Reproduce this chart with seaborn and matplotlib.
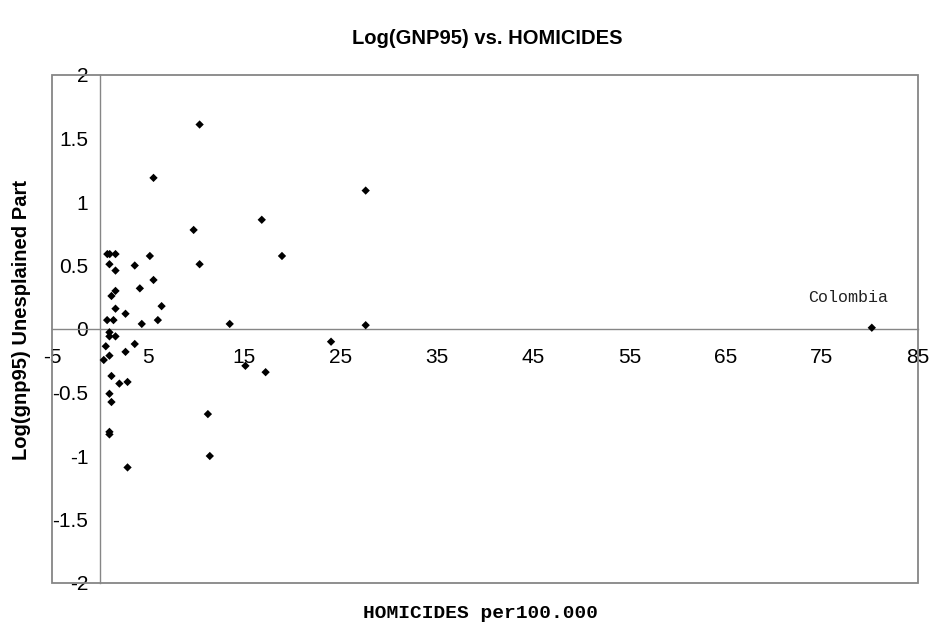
import numpy as np
import pandas as pd
import matplotlib
matplotlib.use("Agg")
import matplotlib.pyplot as plt
import seaborn as sns
from matplotlib.patches import Rectangle

# ---- data ----
homicides = [0.75, 1.0, 1.6, 5.17, 0.97, 3.6, 1.6, 5.55, 4.13, 1.6,
             1.18, 6.39, 1.6, 2.64, 0.73, 1.39, 6.0, 4.33, 0.97, 0.97,
             1.6, 0.59, 3.6, 2.64, 0.97, 0.38, 1.18, 2.0, 2.85, 0.97,
             1.18, 0.97, 0.97, 10.34, 5.55, 16.8, 9.72, 18.9, 10.34, 13.47,
             15.1, 17.2, 11.2, 11.4, 2.85, 24.0, 27.6, 27.6, 80.2]
residual = [0.59, 0.59, 0.59, 0.575, 0.51, 0.50, 0.46, 0.386, 0.32, 0.30,
            0.26, 0.18, 0.16, 0.12, 0.07, 0.07, 0.07, 0.04, -0.026, -0.058,
            -0.058, -0.136, -0.118, -0.18, -0.21, -0.244, -0.37, -0.43, -0.417, -0.51,
            -0.575, -0.81, -0.83, 1.61, 1.19, 0.86, 0.78, 0.575, 0.51, 0.04,
            -0.29, -0.34, -0.67, -1.0, -1.09, -0.10, 1.09, 0.03, 0.01]
x_ticks = [-5, 5, 15, 25, 35, 45, 55, 65, 75, 85]
x_tick_labels = ["-5", "5", "15", "25", "35", "45", "55", "65", "75", "85"]
y_ticks = [-2, -1.5, -1, -0.5, 0, 0.5, 1, 1.5, 2]
y_tick_labels = ["-2", "-1.5", "-1", "-0.5", "0", "0.5", "1", "1.5", "2"]
annot_label = "Colombia"
annot_pos = (77.7, 0.25)

title = "Log(GNP95) vs. HOMICIDES"
xlabel = "HOMICIDES per100.000"
ylabel = "Log(gnp95) Unesplained Part"

df = pd.DataFrame({"homicides": homicides, "residual": residual})

sns.set_style("white")
plt.rcParams["font.family"] = ["Liberation Sans", "DejaVu Sans"]
plt.rcParams["text.color"] = "black"

W, H = 935, 631
fig = plt.figure(figsize=(W / 100, H / 100), dpi=100)
left, right, top, bottom = 52, 918, 75, 583
ax = fig.add_axes([left / W, 1 - bottom / H, (right - left) / W, (bottom - top) / H])

sns.scatterplot(data=df, x="homicides", y="residual", marker="D", s=18,
                color="black", edgecolor="none", linewidth=0, ax=ax, zorder=3,
                legend=False)

ax.set_xlim(-5, 85)
ax.set_ylim(-2, 2)
ax.set_xlabel("")
ax.set_ylabel("")

grey = "#868686"
ax.spines["left"].set_position(("data", 0))
ax.spines["bottom"].set_position(("data", 0))
for sp in ["left", "bottom"]:
    ax.spines[sp].set_color(grey)
    ax.spines[sp].set_linewidth(1.0)
ax.spines["top"].set_visible(False)
ax.spines["right"].set_visible(False)
ax.add_patch(Rectangle((0, 0), 1, 1, transform=ax.transAxes, fill=False,
                       edgecolor=grey, linewidth=1.3, clip_on=False, zorder=1))

ax.set_xticks(x_ticks)
ax.set_xticklabels(x_tick_labels)
ax.set_yticks(y_ticks)
ax.set_yticklabels(y_tick_labels)
ax.tick_params(axis="both", direction="out", length=4.5, width=1.0, color=grey,
               labelsize=15, labelcolor="black")
ax.tick_params(axis="x", pad=9)
ax.tick_params(axis="y", pad=4)

ax.text(annot_pos[0], annot_pos[1], annot_label, ha="center", va="center",
        fontsize=12, family=["Liberation Mono", "DejaVu Sans Mono"], color="#222222")

fig.text(487 / W, 1 - 38 / H, title, ha="center", va="center",
         fontsize=14.5, fontweight="bold")
fig.text(22 / W, 1 - 320 / H, ylabel, ha="center", va="center", rotation=90,
         fontsize=14.5, fontweight="bold")
fig.text(481 / W, 1 - 614 / H, xlabel, ha="center", va="center",
         fontsize=14, fontweight="bold", family=["Liberation Mono", "DejaVu Sans Mono"])

fig.savefig("out.png", dpi=100, facecolor="white")
